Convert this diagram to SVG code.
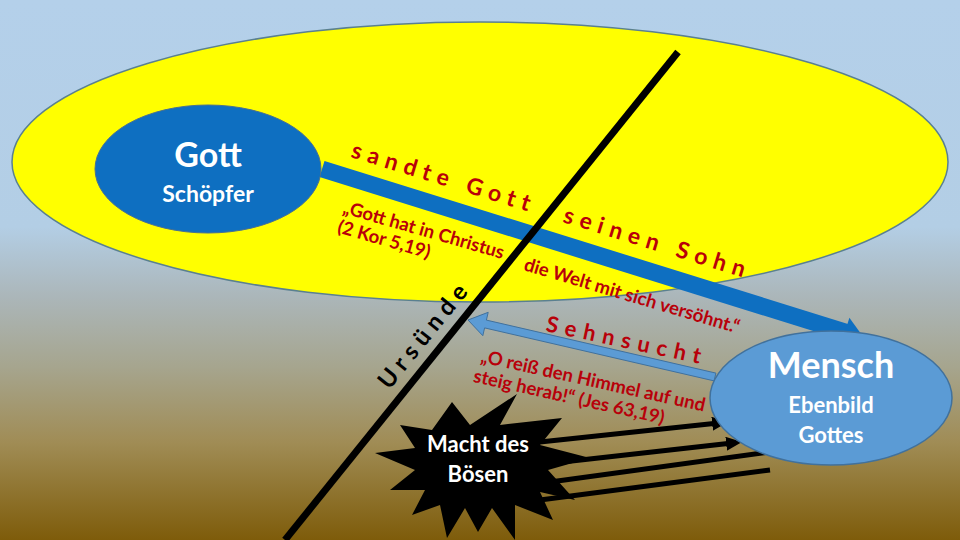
<svg xmlns="http://www.w3.org/2000/svg" width="960" height="540" viewBox="0 0 960 540">
<defs>
<linearGradient id="bg" x1="0" y1="0" x2="0" y2="1">
<stop offset="0" stop-color="#b4d0ea"/>
<stop offset="0.42" stop-color="#b3cee5"/>
<stop offset="0.55" stop-color="#abb6b9"/>
<stop offset="0.68" stop-color="#a6a58e"/>
<stop offset="0.82" stop-color="#a08c55"/>
<stop offset="1" stop-color="#7e5c0a"/>
</linearGradient>
<marker id="ah" markerUnits="userSpaceOnUse" markerWidth="16" markerHeight="14" refX="4" refY="7" orient="auto">
<path d="M0,0 L16,7 L0,14 z" fill="#000"/>
</marker>
<style>
.red{fill:#b8000a;font-family:Lato,"Open Sans",sans-serif;font-weight:bold}
.wt{fill:#fff;font-family:Lato,"Open Sans",sans-serif;font-weight:bold;text-anchor:middle}
.bl{stroke:#000;stroke-width:5;fill:none}
</style>
</defs>
<rect width="960" height="540" fill="url(#bg)"/>
<ellipse id="heaven" cx="480" cy="162" rx="468" ry="140" fill="#ffff00" stroke="#5a8090" stroke-width="1.5"/>

<g id="connectors">
<path d="M322,169 L847,332.6" stroke="#0e6fc1" stroke-width="17" fill="none"/>
<polygon points="864,338 849.4,317.7 840.4,346.3" fill="#0e6fc1"/>
<line x1="678" y1="52" x2="285" y2="540" stroke="#000" stroke-width="7"/>
<polygon points="468,320 488.2,312.3 486.4,320.1 715.9,373.1 714.1,380.9 484.6,327.9 482.8,335.7" fill="#5b9bd5" stroke="#41719c" stroke-width="1"/>
<line class="bl" x1="540" y1="442" x2="716.1" y2="423.3" marker-end="url(#ah)"/>
<line class="bl" x1="545" y1="464" x2="730.1" y2="443.3" marker-end="url(#ah)"/>
<line class="bl" x1="550" y1="482" x2="770" y2="452"/>
<line class="bl" x1="540" y1="500" x2="770" y2="470"/>
</g>

<g id="gott">
<ellipse cx="208" cy="169" rx="113" ry="64" fill="#0e6fc1" stroke="#4a7090" stroke-width="1"/>
<text class="wt" x="208" y="167" font-size="34">Gott</text>
<text class="wt" x="208" y="202" font-size="23">Schöpfer</text>
</g>

<g id="labels">
<text class="red" transform="translate(350,157) rotate(17)" font-size="23" letter-spacing="6.5">sandte Gott</text>
<text class="red" transform="translate(562,222) rotate(17)" font-size="23" letter-spacing="6.5">seinen Sohn</text>
<text class="red" transform="translate(342,213) rotate(16)" font-size="18.5">„Gott hat in Christus<tspan x="0" y="20">(2 Kor 5,19)</tspan></text>
<text class="red" transform="translate(523,270) rotate(16.5)" font-size="18.5">die Welt mit sich versöhnt.“</text>
<text class="red" transform="translate(545,331) rotate(12)" font-size="22" letter-spacing="7">Sehnsucht</text>
<text class="red" transform="translate(480,362) rotate(12.5)" font-size="18.5">„O reiß den Himmel auf und<tspan x="-3" y="21">steig herab!“ (Jes 63,19)</tspan></text>
<text transform="translate(431,339) rotate(-51)" font-family="Lato,'Open Sans',sans-serif" font-weight="bold" font-size="24" letter-spacing="6" text-anchor="middle" fill="#000">Ursünde</text>
</g>

<g id="boese">
<polygon points="517,394 500,425 562,418 540,445 590,458 548,470 575,500 540,492 553,520 515,505 515,540 492,508 478,532 465,508 447,538 440,505 412,515 425,490 390,490 415,470 375,453 415,448 400,425 432,430 452,402 470,425" fill="#000"/>
<text class="wt" x="478" y="452" font-size="22" font-weight="normal">Macht des</text>
<text class="wt" x="478" y="482" font-size="22" font-weight="normal">Bösen</text>
</g>

<g id="mensch">
<ellipse cx="831" cy="398" rx="121" ry="67" fill="#5b9bd5" stroke="#41719c" stroke-width="1.5"/>
<text class="wt" x="831" y="378" font-size="36">Mensch</text>
<text class="wt" x="831" y="413" font-size="22">Ebenbild</text>
<text class="wt" x="831" y="443" font-size="22">Gottes</text>
</g>
</svg>
